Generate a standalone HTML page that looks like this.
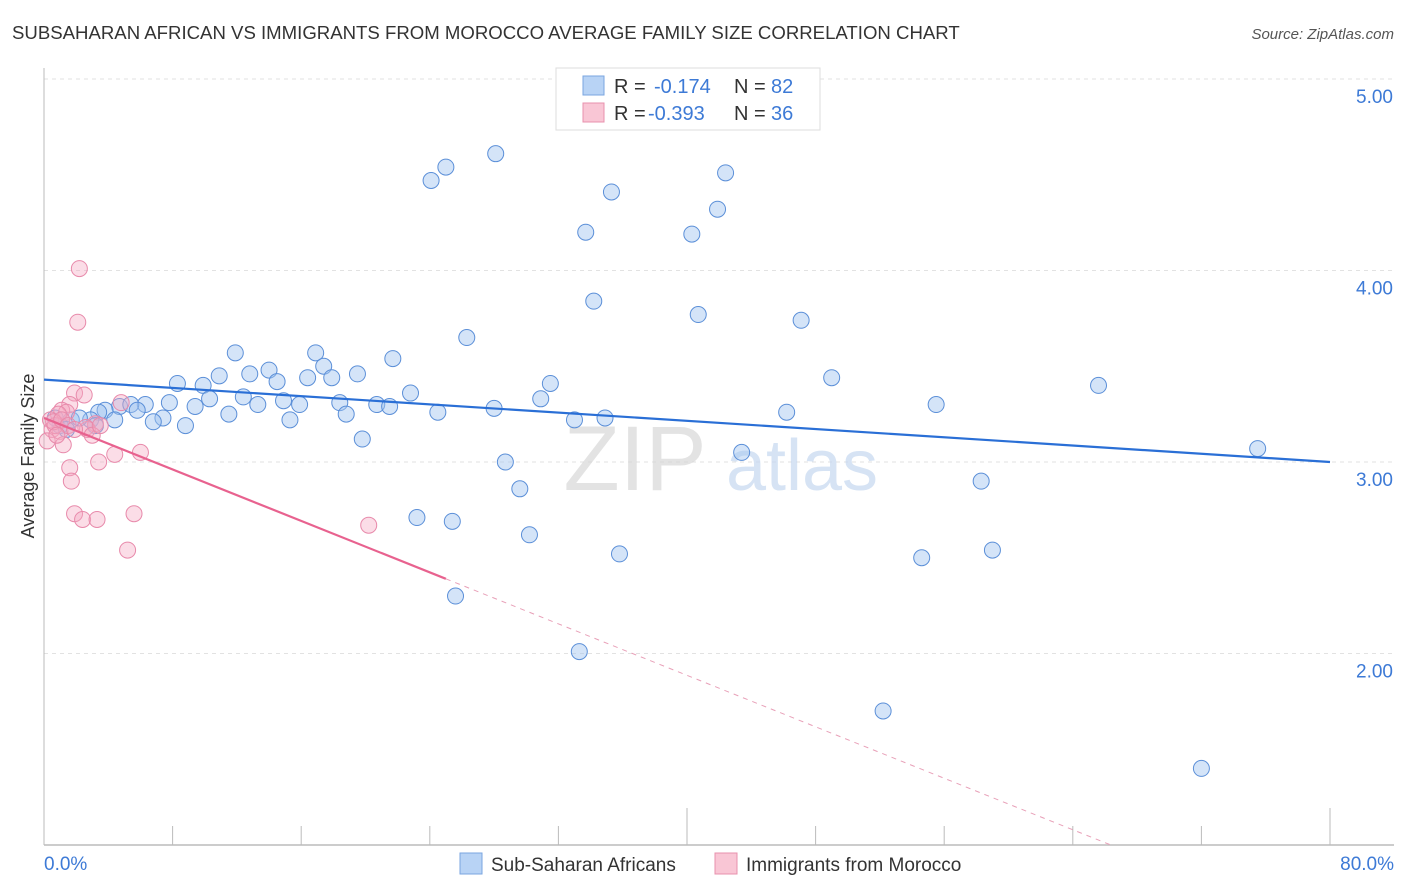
<!DOCTYPE html>
<html><head><meta charset="utf-8"><style>
body{margin:0;background:#fff;font-family:"Liberation Sans",sans-serif;overflow:hidden}
svg{display:block}
svg text{font-family:"Liberation Sans",sans-serif}
</style></head><body>
<svg id="chart" width="1406" height="892" viewBox="0 0 1406 892" xmlns="http://www.w3.org/2000/svg">
<text x="12" y="39" font-size="18.6" fill="#333">SUBSAHARAN AFRICAN VS IMMIGRANTS FROM MOROCCO AVERAGE FAMILY SIZE CORRELATION CHART</text>
<text x="1394" y="39" font-size="15" fill="#555" font-style="italic" text-anchor="end">Source: ZipAtlas.com</text>
<g id="grid"></g>
<g>
<text x="635" y="490" font-size="92" fill="#d8d8d8" font-family="Liberation Serif" text-anchor="middle" opacity="0.7">ZIP</text>
<text x="802" y="490" font-size="72" fill="#c5d8f0" text-anchor="middle" opacity="0.7">atlas</text>
</g>
<g id="axes"></g>
<g id="points"></g>
<g id="trends"></g>
<text transform="translate(34,456) rotate(-90)" font-size="18" fill="#333" text-anchor="middle">Average Family Size</text>
<g>
<rect x="556" y="68" width="264" height="62" fill="#fff" stroke="#ddd"/>
<rect x="583" y="76" width="21" height="19" fill="#b8d3f5" stroke="#7aa6e0"/>
<text x="614" y="93" font-size="20" fill="#333">R =</text>
<text x="654" y="93" font-size="20" fill="#3d7ad6">-0.174</text>
<text x="734" y="93" font-size="20" fill="#333">N =</text>
<text x="771" y="93" font-size="20" fill="#3d7ad6">82</text>
<rect x="583" y="103" width="21" height="19" fill="#f9c6d5" stroke="#e890ad"/>
<text x="614" y="120" font-size="20" fill="#333">R =</text>
<text x="648" y="120" font-size="20" fill="#3d7ad6">-0.393</text>
<text x="734" y="120" font-size="20" fill="#333">N =</text>
<text x="771" y="120" font-size="20" fill="#3d7ad6">36</text>
</g>
<g>
<rect x="460" y="853" width="22" height="21" fill="#b8d3f5" stroke="#7aa6e0"/>
<text x="491" y="871" font-size="19" fill="#333">Sub-Saharan Africans</text>
<rect x="715" y="853" width="22" height="21" fill="#f9c6d5" stroke="#e890ad"/>
<text x="746" y="871" font-size="19" fill="#333">Immigrants from Morocco</text>
</g>
</svg>
<script>
const yTicks=[2,3,4,5];
const yTickLabels=["2.00","3.00","4.00","5.00"];
const xTicks=[0,8,16,24,32,40,48,56,64,72,80];
const blueX=[24.08,25.0,28.1,35.3,33.7,40.3,42.4,41.9,34.2,40.7,47.1,26.3,11.9,16.9,21.7,17.4,14.0,19.5,12.8,10.9,16.4,17.9,8.3,9.9,14.5,22.8,31.5,49.0,65.6,30.9,12.4,10.3,14.9,15.9,18.4,20.7,21.5,7.8,6.3,13.3,4.7,5.4,9.4,55.5,28.0,5.8,3.8,3.4,11.5,18.8,24.5,33.0,34.9,46.2,7.4,15.3,6.8,8.8,4.4,2.9,1.7,19.8,43.4,75.5,28.7,29.6,58.3,23.2,25.4,30.2,35.8,54.6,59.0,25.6,33.3,52.2,72.0,1.0,2.2,1.4,3.2,0.7];
const blueY=[4.47,4.54,4.61,4.41,4.20,4.19,4.51,4.32,3.84,3.77,3.74,3.65,3.57,3.57,3.54,3.50,3.48,3.46,3.46,3.45,3.44,3.44,3.41,3.40,3.42,3.36,3.41,3.44,3.40,3.33,3.34,3.33,3.32,3.30,3.31,3.30,3.29,3.31,3.30,3.30,3.29,3.30,3.29,3.30,3.28,3.27,3.27,3.26,3.25,3.25,3.26,3.22,3.23,3.26,3.23,3.22,3.21,3.19,3.22,3.22,3.22,3.12,3.05,3.07,3.00,2.86,2.90,2.71,2.69,2.62,2.52,2.50,2.54,2.30,2.01,1.70,1.40,3.19,3.23,3.17,3.19,3.23];
const pinkX=[2.2,2.1,1.9,2.5,1.6,1.1,1.4,3.2,0.9,0.4,0.5,1.0,0.7,2.7,1.2,1.6,1.7,3.4,4.4,6.0,4.8,1.9,2.4,3.3,5.6,5.2,20.2,0.2,0.6,1.1,1.5,2.6,3.0,0.8,1.9,3.5];
const pinkY=[4.01,3.73,3.36,3.35,3.30,3.27,3.26,3.20,3.25,3.22,3.17,3.16,3.19,3.17,3.09,2.97,2.90,3.00,3.04,3.05,3.31,2.73,2.70,2.70,2.73,2.54,2.67,3.11,3.21,3.22,3.19,3.18,3.14,3.14,3.17,3.19];
const blueTrend=[3.43,3.00];
const pinkTrend=[3.23,-0.0336];
const pinkSolidEnd=25.0, pinkDashEnd=66.4;

const X0=44,X1=1330,Y0=845,YT=79;
const sx=v=>X0+(v/80)*(X1-X0);
const sy=v=>Y0-(v-1)/4*(Y0-YT);
const NS="http://www.w3.org/2000/svg";
function mk(tag,attrs,parent){const e=document.createElementNS(NS,tag);for(const k in attrs)e.setAttribute(k,attrs[k]);parent.appendChild(e);return e;}
const grid=document.getElementById('grid'),axes=document.getElementById('axes');
yTicks.forEach((t,i)=>{
 const l=mk('line',{x1:X0,x2:1394,y1:sy(t),y2:sy(t),stroke:'#e2e2e2','stroke-dasharray':'4,4'},grid);
 
 
 const tx=mk('text',{x:1393,y:sy(t)+24,'font-size':19,fill:'#3d7ad6','text-anchor':'end'},axes);
 tx.textContent=yTickLabels[i];
 
 
});
const ya=mk('line',{x1:X0,x2:X0,y1:68,y2:Y0,stroke:'#bbb'},axes);


const xa=mk('line',{x1:X0,x2:1394,y1:Y0,y2:Y0,stroke:'#bbb','stroke-width':1.5},axes);


xTicks.forEach((t,i)=>{
 const long=(t%40===0);
 const l=mk('line',{x1:sx(t),x2:sx(t),y1:long?808:826,y2:Y0,stroke:'#bbb'},axes);
 
 
});
const xl0=mk('text',{x:44,y:870,'font-size':19,fill:'#3d7ad6'},axes);xl0.textContent='0.0%';


const xl1=mk('text',{x:1394,y:870,'font-size':19,fill:'#3d7ad6','text-anchor':'end'},axes);xl1.textContent='80.0%';


const pts=document.getElementById('points');
blueX.forEach((x,i)=>{
 const c=mk('circle',{cx:sx(x),cy:sy(blueY[i]),r:8,fill:'rgba(160,196,240,0.45)',stroke:'#5b8fd8','stroke-width':1},pts);
 
 
});
pinkX.forEach((x,i)=>{
 const c=mk('circle',{cx:sx(x),cy:sy(pinkY[i]),r:8,fill:'rgba(244,170,195,0.4)',stroke:'#e88aab','stroke-width':1},pts);
 
 
});
const tr=document.getElementById('trends');
const bl=mk('line',{x1:sx(0),y1:sy(blueTrend[0]),x2:sx(80),y2:sy(blueTrend[1]),stroke:'#2a6fd6','stroke-width':2.2},tr);


const pv=x=>pinkTrend[0]+pinkTrend[1]*x;
const pl=mk('line',{x1:sx(0),y1:sy(pv(0)),x2:sx(pinkSolidEnd),y2:sy(pv(pinkSolidEnd)),stroke:'#e8628f','stroke-width':2.2},tr);


const pd=mk('line',{x1:sx(pinkSolidEnd),y1:sy(pv(pinkSolidEnd)),x2:sx(pinkDashEnd),y2:sy(pv(pinkDashEnd)),stroke:'#e8a0b8','stroke-width':1,'stroke-dasharray':'5,5'},tr);


</script>
</body></html>
